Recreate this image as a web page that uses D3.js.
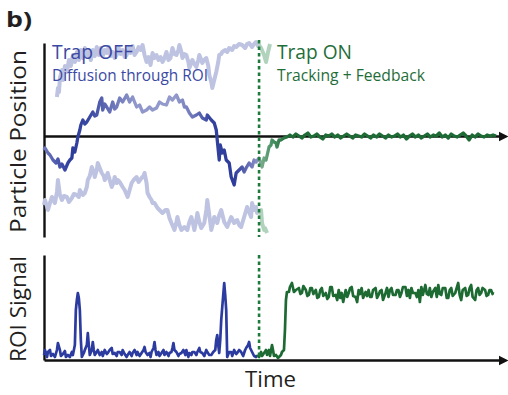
<!DOCTYPE html>
<html>
<head>
<meta charset="utf-8">
<script src="https://cdn.jsdelivr.net/npm/d3@7"></script>
<style>
  html, body { margin: 0; padding: 0; background: #fff; }
  svg { display: block; font-family: 'Open Sans', 'Noto Sans', sans-serif; }
</style>
</head>
<body>
<svg id="chart" width="508" height="395"></svg>
<script>
// ---------------- DATA (time units, position units, signal units) ----------------
const trapOnTime = 216;

// main particle trace: [time, position]
const mainTrace = [
  [0,-14],[1,-12],[4,-17],[6,-19],[9,-24],[12,-27],[14,-23],[16,-31],[18,-28],[21,-34],
  [24,-27],[26,-24],[28,-22],[29,-12],[31,-16],[33,-7],[34,-1],[36,6],[37,11],[39,16],
  [41,12],[43,14],[46,19],[49,24],[51,20],[53,21],[56,34],[58,38],[59,26],[61,32],
  [63,29],[66,24],[69,34],[71,27],[73,29],[76,38],[79,34],[83,41],[86,34],[89,39],
  [93,29],[96,31],[99,24],[103,26],[106,29],[109,26],[113,28],[116,34],[119,32],[123,31],
  [126,39],[129,36],[133,41],[136,34],[139,36],[141,29],[143,29],[146,23],[149,19],[153,21],
  [156,23],[159,18],[163,16],[164,21],[168,16],[171,13],[173,6],[174,-4],[176,-24],[177,-9],
  [179,-17],[181,-14],[183,-24],[186,-27],[188,-41],[191,-49],[193,-37],[196,-34],[199,-31],[201,-36],
  [203,-32],[206,-27],[209,-31],[211,-24],[213,-26],[216,-22],[219,-31],[221,-22],[223,-24],[226,-11],
  [228,-9],[229,-4],[231,-6],[233,-7],[234,-11],[236,-4],[238,-4],[241,-2],[244,-1],
  [247,1],[250,-1],[253,2],[256,0],[259,-2],[262,1],[265,3],[268,-1],[271,0],[274,2],
  [277,-1],[280,-3],[283,1],[286,0],[289,2],[292,-1],[295,1],[298,-2],[301,0],[304,2],
  [307,0],[310,-2],[313,1],[316,0],[319,-1],[322,2],[325,0],[328,-2],[331,1],[334,-1],
  [337,2],[340,0],[343,-2],[346,1],[349,-1],[352,0],[355,2],[358,-1],[361,1],[364,-3],
  [367,0],[370,2],[373,-1],[376,1],[379,-2],[382,0],[385,2],[388,-1],[391,1],[394,0],
  [397,3],[400,-1],[403,1],[406,-2],[409,2],[412,0],[415,-1],[418,1],[421,3],[424,0],
  [427,-4],[430,1],[433,-1],[436,2],[439,0],[442,-1],[445,1],[448,0],[451,1],[454,0]
];

// faint upper trajectory
const upperGhost = [
  [13,39],[14,48],[15,44],[16,58],[18,66],[19,56],[21,70],[23,64],[25,76],[27,70],
  [29,81],[31,74],[33,84],[35,76],[37,86],[39,78],[41,88],[43,80],[45,84],[47,76],
  [49,86],[51,80],[53,89],[55,81],[57,88],[59,80],[61,86],[63,83],[65,89],[67,80],
  [69,84],[71,78],[73,81],[75,88],[77,82],[79,86],[81,79],[83,81],[85,88],[87,83],
  [89,90],[91,81],[93,84],[95,89],[97,86],[99,91],[101,81],[103,74],[105,79],[107,71],
  [109,83],[111,78],[113,81],[115,76],[117,79],[119,74],[121,78],[123,84],[125,76],[127,78],
  [129,88],[131,82],[133,81],[135,86],[136,91],[138,84],[139,78],[141,82],[143,81],[145,74],
  [146,68],[148,73],[149,76],[151,72],[153,69],[155,76],[156,81],[158,76],[159,73],[161,76],
  [163,78],[165,70],[166,61],[168,54],[169,48],[171,56],[173,64],[175,74],[176,81],[178,82],
  [179,84],[182,86],[184,84],[186,88],[189,86],[191,90],[193,89],[196,92],[199,91],[202,88],
  [204,92],[206,93],[209,89],[211,92],[213,94],[215,90],[216,91],[218,88],[221,81],[223,74],
  [225,84],[227,92]
];

// faint lower trajectory
const lowerGhost = [
  [0,-69],[1,-64],[4,-74],[6,-67],[8,-61],[11,-67],[13,-56],[14,-44],[16,-59],[18,-64],
  [20,-60],[23,-61],[25,-66],[28,-62],[30,-58],[33,-59],[35,-61],[36,-54],[39,-59],[41,-57],
  [43,-51],[44,-44],[46,-40],[48,-31],[50,-36],[51,-41],[53,-34],[54,-27],[56,-32],[58,-37],
  [60,-40],[61,-44],[63,-40],[64,-37],[66,-44],[68,-51],[70,-46],[71,-41],[73,-47],[74,-44],
  [76,-46],[79,-51],[81,-54],[84,-61],[86,-54],[88,-47],[90,-44],[93,-41],[95,-46],[98,-42],
  [100,-40],[101,-37],[103,-47],[104,-57],[106,-61],[108,-64],[109,-67],[111,-67],[114,-72],[116,-74],
  [119,-77],[122,-74],[124,-74],[126,-82],[128,-87],[131,-94],[133,-86],[134,-81],[136,-89],[138,-94],
  [141,-91],[144,-94],[146,-86],[148,-81],[150,-89],[151,-94],[153,-84],[154,-77],[156,-86],[158,-92],
  [161,-87],[163,-74],[164,-64],[166,-79],[168,-94],[170,-86],[171,-81],[174,-87],[176,-79],[178,-74],
  [181,-86],[184,-91],[186,-86],[188,-81],[191,-87],[194,-84],[196,-89],[198,-91],[201,-81],[204,-71],
  [206,-76],[208,-81],[209,-67],[211,-74],[213,-71],[214,-77],[216,-76],[218,-74],[219,-87],[221,-94],
  [222,-92],[224,-97]
];

// ROI signal while trap is off: [time, signal]
const roiOff = [
  [0,5],[1,10],[3,3],[4,8],[6,10],[7,4],[9,6],[11,3],[13,10],[14,17],
  [16,10],[17,4],[19,6],[21,9],[22,3],[24,5],[26,3],[28,8],[29,5],[31,15],
  [32,50],[33,60],[34,67],[35,62],[36,50],[37,20],[38,3],[40,7],[41,10],[43,15],
  [44,27],[45,15],[46,5],[48,10],[49,18],[50,10],[51,5],[53,8],[54,10],[56,5],
  [58,8],[59,4],[61,10],[63,6],[64,7],[66,10],[68,12],[69,6],[71,7],[73,4],
  [74,8],[76,8],[78,5],[79,10],[81,6],[83,3],[84,5],[86,8],[88,4],[89,7],
  [91,10],[93,5],[94,8],[96,4],[98,7],[100,10],[101,13],[102,8],[104,5],[106,7],
  [107,3],[108,8],[110,12],[111,18],[112,10],[113,5],[115,8],[116,4],[118,7],[120,10],
  [121,5],[123,8],[125,4],[126,7],[128,8],[129,12],[130,17],[131,10],[133,8],[135,4],
  [136,6],[138,7],[140,10],[142,5],[143,10],[145,3],[146,7],[148,5],[149,8],[151,8],
  [153,5],[154,8],[156,12],[157,8],[159,7],[161,4],[163,10],[164,8],[166,5],[168,5],
  [170,8],[172,10],[173,20],[174,25],[175,15],[176,7],[177,20],[178,40],[180,65],[181,77],
  [182,65],[183,50],[184,3],[186,8],[188,8],[189,4],[191,10],[193,6],[194,7],[196,10],
  [198,8],[200,4],[202,10],[203,12],[205,15],[206,18],[207,12],[209,8],[211,4],[213,3],
  [214,5]
];

// ROI signal while trap is on
const roiOn = [
  [214,5],[216,3],[218,8],[219,4],[221,7],[223,10],[224,5],[226,10],[227,4],[229,15],
  [230,10],[231,4],[233,5],[235,2],[236,3],[238,5],[239,8],[241,10],[242,30],[243,60],
  [244,68],[246,68],[247,73],[249,77],[251,68],[253,70],
  [256,72],[257.5,66],[259,67],[260.5,74],[263,70],[264.5,64],[266,65],[267.5,72],[269,72],[270.5,66],
  [273,70],[274.5,62],[276,63],[277.5,70],[279,72],[280.5,64],[283,67],[284.5,61],[286,63],[287.5,73],
  [289,73],[290.5,64],[293,65],[294.5,60],[296,70],[297.5,62],[299,67],[300.5,58],[303,70],[304.5,63],
  [306,67],[307.5,72],[309,73],[310.5,64],[313,63],[314.5,58],[316,70],[317.5,66],[319,72],[320.5,62],
  [323,68],[324.5,64],[326,70],[327.5,63],[329,63],[330.5,70],[333,72],[334.5,62],[336,65],[337.5,69],
  [339,70],[340.5,60],[343,67],[344.5,72],[346,63],[347.5,70],[349,72],[350.5,65],[353,65],[354.5,70],
  [356,70],[357.5,63],[359,67],[360.5,73],[363,73],[364.5,64],[366,70],[367.5,62],[369,72],[370.5,67],
  [373,67],[374.5,63],[376,70],[377.5,58],[379,73],[380.5,65],[383,75],[384.5,66],[386,65],[387.5,72],
  [389,63],[390.5,68],[393,72],[394.5,63],[396,75],[397.5,66],[399,65],[400.5,72],[403,72],[404.5,62],
  [406,62],[407.5,70],[409,72],[410.5,64],[413,67],[414.5,72],[416,77],[417.5,65],[419,60],[420.5,70],
  [423,72],[424.5,64],[426,65],[427.5,72],[429,75],[430.5,63],[433,60],[434.5,70],[436,72],[437.5,65],
  [439,67],[440.5,72],[443,70],[444.5,64],[446,65],[447.5,70],[449,70],[450.5,66],[451,68]
];

const labels = {
  panel: "b)",
  offTitle: "Trap OFF", offSub: "Diffusion through ROI",
  onTitle: "Trap ON", onSub: "Tracking + Feedback",
  yTop: "Particle Position", yBot: "ROI Signal", xLab: "Time"
};

// ---------------- SCALES ----------------
const svg = d3.select("#chart");
const x = d3.scaleLinear().domain([0, 463]).range([44, 505]);
const yTop = d3.scaleLinear().domain([-101, 93]).range([237, 43]);
const yBot = d3.scaleLinear().domain([0, 105]).range([360, 255]);

const defs = svg.append("defs");
defs.append("marker").attr("id", "arrow")
  .attr("viewBox", "0 0 10 10").attr("refX", 7).attr("refY", 5)
  .attr("markerWidth", 10).attr("markerHeight", 11).attr("markerUnits", "userSpaceOnUse")
  .attr("orient", "auto")
  .append("path").attr("d", "M0,0 L10,5 L0,10 Z").attr("fill", "#111");

function grad(id, stops) {
  const g = defs.append("linearGradient").attr("id", id)
    .attr("gradientUnits", "userSpaceOnUse")
    .attr("x1", x(0)).attr("x2", x(463)).attr("y1", 0).attr("y2", 0);
  stops.forEach(([t, c]) => g.append("stop")
    .attr("offset", ((x(t) - x(0)) / (x(463) - x(0)))).attr("stop-color", c));
}
grad("mainGrad", [
  [0, "#7079bb"], [18, "#3f4da6"], [28, "#2d3c9a"], [46, "#3c4aa3"], [66, "#6670b6"],
  [91, "#8e96ca"], [131, "#949bcc"], [151, "#6a73b8"], [168, "#34429e"], [191, "#2d3c9a"],
  [206, "#6a72b7"], [214, "#8a8ec6"], [217, "#7fae90"], [228, "#4b9367"], [246, "#1f6c37"], [463, "#1d6a34"]
]);
grad("ghostGrad", [[0, "#bec3e1"], [213, "#bec3e1"], [217, "#b1d3bd"], [463, "#b1d3bd"]]);

// ---------------- AXES ----------------
const axisStyle = g => g.select(".domain").attr("stroke", "#111").attr("stroke-width", 2.4);
svg.append("g").attr("transform", `translate(${x(0)},0)`)
  .call(d3.axisLeft(yTop).tickValues([]).tickSizeOuter(0)).call(axisStyle);
svg.append("g").attr("transform", `translate(0,${yTop(0)})`)
  .call(d3.axisBottom(x).tickValues([]).tickSizeOuter(0)).call(axisStyle)
  .select(".domain").attr("marker-end", "url(#arrow)");
svg.append("g").attr("transform", `translate(${x(0)},0)`)
  .call(d3.axisLeft(yBot).tickValues([]).tickSizeOuter(0)).call(axisStyle);
svg.append("g").attr("transform", `translate(0,${yBot(0)})`)
  .call(d3.axisBottom(x).tickValues([]).tickSizeOuter(0)).call(axisStyle)
  .select(".domain").attr("marker-end", "url(#arrow)");

// ---------------- TRACES ----------------
const lineTop = d3.line().x(d => x(d[0])).y(d => yTop(d[1]));
const lineBot = d3.line().x(d => x(d[0])).y(d => yBot(d[1]));

svg.append("path").datum(upperGhost).attr("d", lineTop)
  .attr("fill", "none").attr("stroke", "url(#ghostGrad)").attr("stroke-width", 4).attr("stroke-linejoin", "round");
svg.append("path").datum(lowerGhost).attr("d", lineTop)
  .attr("fill", "none").attr("stroke", "url(#ghostGrad)").attr("stroke-width", 4).attr("stroke-linejoin", "round");
svg.append("path").datum(mainTrace).attr("d", lineTop)
  .attr("fill", "none").attr("stroke", "url(#mainGrad)").attr("stroke-width", 3.3).attr("stroke-linejoin", "round");

svg.append("path").datum(roiOff).attr("d", lineBot)
  .attr("fill", "none").attr("stroke", "#2c3b9f").attr("stroke-width", 2.7).attr("stroke-linejoin", "round");
svg.append("path").datum(roiOn).attr("d", lineBot)
  .attr("fill", "none").attr("stroke", "#1d6a33").attr("stroke-width", 2.7).attr("stroke-linejoin", "round");

// ---------------- TRAP-ON MARKER ----------------
[[yTop(96), yTop(-101)], [yBot(105), yBot(0)]].forEach(([a, b]) => {
  svg.append("line").attr("x1", x(trapOnTime)).attr("x2", x(trapOnTime))
    .attr("y1", a).attr("y2", b)
    .attr("stroke", "#1f7a3e").attr("stroke-width", 2.6).attr("stroke-dasharray", "3.5,3");
});

// ---------------- TEXT ----------------
svg.append("text").attr("x", 6).attr("y", 27).attr("font-weight", "bold").attr("font-size", 22)
  .attr("fill", "#231f20").attr("textLength", 26).attr("lengthAdjust", "spacingAndGlyphs").text(labels.panel);

svg.append("text").attr("x", 52).attr("y", 59).attr("font-size", 19.5).attr("fill", "#3b49a3")
  .attr("textLength", 81).attr("lengthAdjust", "spacingAndGlyphs").text(labels.offTitle);
svg.append("text").attr("x", 52).attr("y", 80.5).attr("font-size", 15.5).attr("fill", "#3b49a3")
  .attr("textLength", 156).attr("lengthAdjust", "spacingAndGlyphs").text(labels.offSub);
svg.append("text").attr("x", 277).attr("y", 59).attr("font-size", 19.5).attr("fill", "#1f6e3a")
  .attr("textLength", 75).attr("lengthAdjust", "spacingAndGlyphs").text(labels.onTitle);
svg.append("text").attr("x", 277).attr("y", 80.5).attr("font-size", 15.5).attr("fill", "#1f6e3a")
  .attr("textLength", 148).attr("lengthAdjust", "spacingAndGlyphs").text(labels.onSub);

svg.append("text").attr("transform", "translate(26,141.5) rotate(-90)").attr("text-anchor", "middle")
  .attr("font-size", 21).attr("fill", "#231f20")
  .attr("textLength", 183).attr("lengthAdjust", "spacingAndGlyphs").text(labels.yTop);
svg.append("text").attr("transform", "translate(26,309) rotate(-90)").attr("text-anchor", "middle")
  .attr("font-size", 21).attr("fill", "#231f20")
  .attr("textLength", 106).attr("lengthAdjust", "spacingAndGlyphs").text(labels.yBot);
svg.append("text").attr("x", 270.5).attr("y", 387).attr("text-anchor", "middle")
  .attr("font-size", 22).attr("fill", "#231f20")
  .attr("textLength", 51).attr("lengthAdjust", "spacingAndGlyphs").text(labels.xLab);
</script>
</body>
</html>
